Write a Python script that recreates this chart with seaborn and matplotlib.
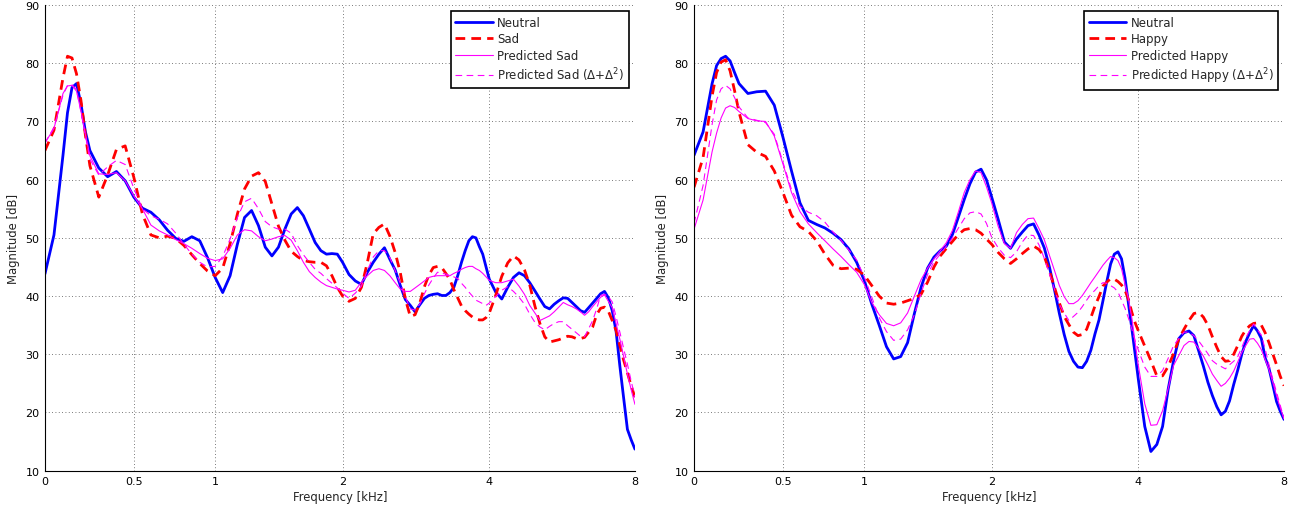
import numpy as np
import pandas as pd
import matplotlib.pyplot as plt
import matplotlib.ticker as mticker
import seaborn as sns

sns.set_style('white')
plt.rcParams['font.family'] = ['DejaVu Sans']

# Frequency axis samples (kHz)
FREQ = [0, 0.05, 0.1, 0.125, 0.15, 0.175, 0.2, 0.225, 0.25, 0.3, 0.35, 0.4, 0.45, 0.5,
        0.55, 0.6, 0.65, 0.7, 0.75, 0.8, 0.85, 0.9, 0.95, 1.0,
        1.05, 1.1, 1.15, 1.2, 1.25, 1.3, 1.35, 1.4, 1.45, 1.5,
        1.55, 1.6, 1.65, 1.7, 1.75, 1.8, 1.85, 1.9, 1.95, 2.0,
        2.0625, 2.125, 2.1875, 2.25, 2.3125, 2.375, 2.4375, 2.5,
        2.5625, 2.625, 2.6875, 2.75, 2.8125, 2.875, 2.9375, 3.0,
        3.0625, 3.125, 3.1875, 3.25, 3.3125, 3.375, 3.4375, 3.5,
        3.5625, 3.625, 3.6875, 3.75, 3.8125, 3.875, 3.9375, 4.0,
        4.125, 4.25, 4.375, 4.5, 4.625, 4.75, 4.875, 5.0,
        5.125, 5.25, 5.375, 5.5, 5.625, 5.75, 5.875, 6.0,
        6.125, 6.25, 6.375, 6.5, 6.625, 6.75, 6.875, 7.0,
        7.125, 7.25, 7.375, 7.5, 7.625, 7.75, 7.875, 8.0]

# Left panel: Neutral -> Sad (dB)
neutral_l = [43.8, 50.5, 64.2, 71.5, 75.8, 76.5, 73.0, 68.2, 65.0, 62.0, 60.5, 61.4, 59.8, 57.0,
             55.1, 54.4, 53.1, 51.3, 49.9, 49.4, 50.2, 49.5, 46.6, 43.2,
             40.6, 43.5, 48.9, 53.5, 54.7, 52.1, 48.4, 46.9, 48.4, 51.5,
             54.1, 55.2, 53.8, 51.5, 49.2, 47.8, 47.2, 47.3, 47.2, 45.8,
             43.7, 42.6, 42.0, 44.1, 45.8, 47.2, 48.3, 46.3,
             44.5, 41.8, 39.4, 38.4, 37.3, 38.5, 39.6, 40.1,
             40.3, 40.4, 40.1, 40.1, 40.6, 41.5, 43.5, 45.8,
             47.8, 49.5, 50.2, 50.0, 48.5, 47.2, 45.0, 42.9,
             40.7, 39.5, 41.5, 43.2, 44.0, 43.5, 42.3, 40.9,
             39.5, 38.2, 37.8, 38.6, 39.2, 39.7, 39.6, 38.9,
             38.2, 37.5, 37.2, 38.0, 38.8, 39.6, 40.4, 40.8,
             39.7, 37.5, 34.0, 28.0, 22.5, 17.1, 15.3, 13.7]
sad = [65.0, 68.5, 77.5, 81.2, 80.9, 78.2, 73.6, 67.6, 62.4, 57.0, 60.8, 65.2, 65.8, 60.4,
       54.1, 50.5, 50.0, 50.3, 49.9, 48.7, 47.1, 45.6, 44.3, 43.5,
       44.8, 49.0, 54.1, 58.4, 60.6, 61.2, 59.7, 55.8, 52.0, 49.6,
       47.7, 46.8, 46.1, 45.9, 45.8, 45.8, 45.2, 43.5, 41.5, 40.0,
       39.1, 39.6, 41.5, 45.8, 50.7, 51.8, 52.4, 50.3,
       47.5, 44.0, 39.5, 36.5, 36.8, 38.8, 41.6, 43.6,
       44.9, 45.1, 44.9, 43.9, 42.8, 41.1, 39.7, 38.3,
       37.5, 36.9, 36.4, 36.1, 35.9, 35.9, 36.3, 37.1,
       40.1, 43.4, 45.7, 46.9, 46.2, 44.5, 41.9, 38.3,
       35.3, 33.0, 32.1, 32.3, 32.5, 32.8, 33.1, 33.0,
       32.7, 32.7, 32.9, 33.8, 34.7, 36.8, 37.9, 38.1,
       37.4, 35.8, 34.1, 31.5, 29.0, 26.8, 24.6, 22.6]
pred_sad = [66.3, 68.8, 74.8, 76.1, 76.2, 75.2, 71.8, 67.7, 64.1, 61.0, 60.9, 61.2, 59.8, 57.2,
            55.0, 52.2, 51.2, 50.5, 49.7, 49.0, 48.2, 47.3, 46.5, 46.1,
            46.4, 48.2, 50.5, 51.4, 51.2, 50.2, 49.5, 49.8, 50.2, 50.4,
            49.6, 47.8, 45.8, 44.2, 43.2, 42.4, 41.8, 41.5, 41.2, 41.0,
            40.7, 41.0, 42.4, 43.5, 44.4, 44.7, 44.4, 43.5,
            42.3, 41.2, 40.8, 40.8, 41.4, 42.0, 42.6, 43.2,
            43.4, 43.5, 43.5, 43.5, 43.5, 43.9, 44.2, 44.6,
            44.9, 45.1, 45.1, 44.7, 44.4, 43.9, 43.3, 42.7,
            42.3, 42.3, 42.6, 42.9, 41.7, 40.3, 38.4, 37.1,
            35.8, 36.2, 36.6, 37.3, 38.1, 38.9, 38.5, 38.2,
            37.8, 37.3, 36.7, 37.3, 38.2, 39.0, 39.8, 40.2,
            39.1, 38.0, 35.3, 32.6, 29.6, 26.6, 23.9, 21.4]
pred_sad_d = [66.3, 69.0, 74.5, 76.2, 76.3, 75.5, 71.6, 67.6, 63.5, 60.8, 62.2, 63.3, 62.6, 58.5,
              55.0, 53.8, 53.2, 52.4, 50.8, 48.9, 47.2, 45.8, 45.0, 45.1,
              46.8, 49.8, 53.5, 56.2, 56.8, 55.0, 52.8, 51.9, 51.5, 51.5,
              50.8, 48.7, 47.1, 45.8, 44.6, 43.9, 43.0, 42.2, 41.4, 40.5,
              39.6, 40.5, 41.7, 44.4, 46.7, 47.8, 47.8, 46.6,
              44.4, 42.2, 39.9, 37.8, 37.6, 38.6, 40.4, 41.9,
              43.1, 44.1, 43.9, 43.8, 43.5, 43.3, 43.0, 42.2,
              41.5, 40.7, 40.0, 39.3, 39.0, 38.7, 38.4, 38.8,
              39.9, 41.0, 41.6, 40.8, 39.8, 38.6, 36.9, 35.5,
              34.7, 34.2, 34.8, 35.3, 35.6, 35.6, 34.9, 34.3,
              33.7, 33.1, 33.0, 34.4, 35.8, 37.8, 40.1, 40.3,
              39.9, 39.0, 36.5, 33.8, 31.0, 28.3, 25.4, 22.6]

# Right panel: Neutral -> Happy (dB)
neutral_r = [64.2, 68.2, 76.5, 79.6, 80.8, 81.2, 80.4, 78.4, 76.5, 74.8, 75.1, 75.2, 72.8, 67.3,
             61.5, 56.0, 53.0, 52.3, 51.7, 50.8, 49.7, 48.1, 45.8, 42.7,
             38.6, 35.0, 31.3, 29.2, 29.6, 32.0, 37.0, 41.5, 44.8, 46.7,
             47.8, 48.6, 50.6, 53.6, 56.6, 59.3, 61.3, 61.8, 60.0, 57.0,
             53.2, 49.3, 48.2, 49.8, 51.0, 52.1, 52.4, 50.5,
             48.3, 45.0, 41.1, 37.0, 33.4, 30.5, 28.8, 27.8,
             27.7, 28.8, 30.7, 33.5, 35.9, 39.2, 42.5, 45.5,
             47.2, 47.6, 46.4, 43.1, 38.7, 34.4, 30.0, 25.6,
             17.6, 13.3, 14.5, 17.6, 24.0, 28.9, 32.7, 33.7,
             34.0, 33.2, 30.6, 28.0, 25.2, 22.9, 21.0, 19.6,
             20.2, 22.0, 24.8, 27.3, 30.0, 32.2, 33.7, 34.9,
             34.0, 32.7, 29.4, 27.6, 24.8, 21.9, 20.2, 18.8]
happy = [58.7, 63.8, 74.4, 78.4, 80.2, 80.6, 78.7, 75.3, 71.6, 66.0, 64.7, 64.0, 61.5, 57.8,
         53.9, 51.9, 51.1, 49.5, 47.2, 45.3, 44.7, 44.8, 44.6, 43.6,
         41.8, 40.0, 38.8, 38.6, 38.8, 39.2, 39.6, 40.3, 42.4, 45.0,
         46.9, 48.2, 49.4, 50.6, 51.4, 51.6, 51.4, 50.8, 49.8, 48.9,
         47.5, 46.4, 45.6, 46.4, 47.3, 48.1, 48.6, 48.0,
         46.8, 44.3, 41.5, 38.8, 36.5, 35.1, 33.8, 33.2,
         33.4, 34.3, 36.3, 38.3, 39.9, 41.7, 42.4, 43.0,
         42.9, 42.5, 41.9, 41.0, 39.4, 37.2, 35.4, 34.0,
         31.4, 28.9, 26.3, 26.3, 27.9, 30.1, 32.6, 34.3,
         35.8, 37.0, 37.2, 36.4, 35.0, 33.0, 31.2, 29.6,
         28.8, 28.9, 30.0, 31.5, 33.1, 34.2, 34.9, 35.3,
         35.4, 35.0, 33.7, 32.0, 30.1, 28.2, 26.2, 24.6]
pred_happy = [51.5, 56.5, 64.8, 68.0, 70.6, 72.3, 72.7, 72.4, 71.7, 70.5, 70.1, 70.0, 67.5, 62.7,
              57.8, 54.5, 52.4, 50.9, 49.5, 48.1, 46.8, 45.4, 44.1, 42.0,
              38.9, 36.8, 35.3, 34.9, 35.4, 37.1, 40.0, 42.8, 44.8, 46.4,
              47.8, 49.2, 51.3, 54.5, 57.8, 60.0, 61.5, 61.2, 58.8, 56.0,
              52.0, 49.0, 48.2, 50.9, 52.3, 53.3, 53.4, 51.6,
              49.7, 47.0, 44.4, 41.8, 39.9, 38.7, 38.7, 39.2,
              40.1, 41.2, 42.3, 43.3, 44.3, 45.3, 46.1, 46.8,
              46.6, 46.1, 44.7, 42.0, 39.5, 36.2, 32.0, 28.0,
              21.5, 17.8, 17.9, 20.3, 24.1, 28.1, 29.8, 31.5,
              32.2, 32.1, 31.0, 29.7, 28.2, 26.6, 25.5, 24.5,
              25.0, 25.9, 27.1, 28.7, 30.3, 31.5, 32.6, 32.7,
              31.9, 30.8, 29.1, 27.4, 25.2, 22.9, 20.8, 18.9]
pred_happy_d = [52.5, 59.0, 69.5, 73.7, 75.6, 76.2, 75.6, 74.1, 72.5, 70.6, 70.2, 69.8, 67.8, 63.0,
                58.3, 55.4, 54.4, 53.8, 52.7, 51.0, 49.6, 47.9, 46.2, 43.3,
                39.8, 36.3, 33.9, 32.4, 32.6, 34.2, 36.8, 40.5, 43.7, 45.9,
                47.2, 48.6, 50.0, 51.7, 53.3, 54.3, 54.5, 54.1, 52.5, 50.1,
                48.3, 47.0, 46.6, 47.6, 49.3, 50.5, 50.4, 48.8,
                46.5, 43.8, 41.2, 38.6, 37.1, 35.8, 36.5, 37.2,
                38.2, 39.3, 40.3, 41.0, 41.8, 42.3, 42.2, 41.8,
                41.4, 40.7, 39.3, 37.9, 36.2, 34.3, 32.3, 30.7,
                27.8, 26.2, 26.2, 27.2, 29.3, 31.5, 32.7, 33.8,
                33.8, 33.2, 32.3, 31.2, 30.1, 28.9, 28.3, 27.9,
                27.5, 28.2, 28.8, 29.6, 31.2, 32.8, 34.1, 35.2,
                34.2, 33.3, 30.9, 28.2, 25.8, 23.5, 21.2, 18.9]

XTICKS = [0, 0.5, 1, 2, 4, 8]
XTICKLABELS = ['0', '0.5', '1', '2', '4', '8']

# all-pass frequency warping (alpha = 0.42, fs = 16 kHz) used for the x axis
ALPHA = 0.42


def warp(f):
    w = np.pi * np.asarray(f, dtype=float) / 8.0
    return (w + 2 * np.arctan(ALPHA * np.sin(w) / (1 - ALPHA * np.cos(w)))) / np.pi


def unwarp(u):
    w = np.pi * np.asarray(u, dtype=float)
    return 8.0 * (w - 2 * np.arctan(ALPHA * np.sin(w) / (1 + ALPHA * np.cos(w)))) / np.pi


styles = [
    dict(color='#0000ff', lw=2.0, linestyle='-'),
    dict(color='#ff0000', lw=2.0, linestyle=(0, (3.5, 2.2))),
    dict(color='#ff00ff', lw=0.8, linestyle='-'),
    dict(color='#ff00ff', lw=0.8, linestyle=(0, (6, 4))),
]

panels = [
    ([neutral_l, sad, pred_sad, pred_sad_d],
     ['Neutral', 'Sad', 'Predicted Sad', r'Predicted Sad ($\Delta$+$\Delta^2$)']),
    ([neutral_r, happy, pred_happy, pred_happy_d],
     ['Neutral', 'Happy', 'Predicted Happy', r'Predicted Happy ($\Delta$+$\Delta^2$)']),
]

fig = plt.figure(figsize=(12.99, 5.10), dpi=100)
ax_pos = [[0.0346, 0.0751, 0.4542, 0.9131], [0.5343, 0.0751, 0.4542, 0.9131]]

for pos, (series, labels) in zip(ax_pos, panels):
    ax = fig.add_axes(pos)
    ax.set_xscale('function', functions=(warp, unwarp))
    for vals, lab, st in zip(series, labels, styles):
        df = pd.DataFrame({'freq': FREQ, 'mag': vals})
        sns.lineplot(data=df, x='freq', y='mag', ax=ax, label=lab,
                     errorbar=None, solid_joinstyle='round',
                     dash_joinstyle='round', **st)
    ax.set_xlim(0, 8)
    ax.set_ylim(10, 90)
    ax.set_xticks(XTICKS)
    ax.set_xticklabels(XTICKLABELS)
    ax.set_yticks(range(10, 91, 10))
    ax.xaxis.set_minor_locator(mticker.FixedLocator(unwarp(np.linspace(0, 1, 101))))
    ax.yaxis.set_minor_locator(mticker.MultipleLocator(1))
    ax.tick_params(which='major', direction='in', length=6, width=0.8,
                   labelsize=8, pad=4, colors='black')
    ax.tick_params(which='minor', direction='in', length=2.5, width=0.6)
    ax.grid(True, which='major', color='0.3', linestyle=(0, (1, 3)), lw=0.6)
    ax.spines['top'].set_visible(False)
    ax.spines['right'].set_visible(False)
    for s in ['left', 'bottom']:
        ax.spines[s].set_color('black')
        ax.spines[s].set_linewidth(0.8)
    ax.set_xlabel('Frequency [kHz]', fontsize=8.4, labelpad=3)
    ax.set_ylabel('Magnitude [dB]', fontsize=8.4, labelpad=4)
    leg = ax.legend(loc='upper right', fontsize=8.5, frameon=True, fancybox=False,
                    framealpha=1, edgecolor='black', handlelength=3.2,
                    handletextpad=0.35, labelspacing=0.3, borderaxespad=0.5,
                    borderpad=0.4)
    leg.get_frame().set_linewidth(1.2)

fig.savefig('out.png', dpi=100, facecolor='white')
